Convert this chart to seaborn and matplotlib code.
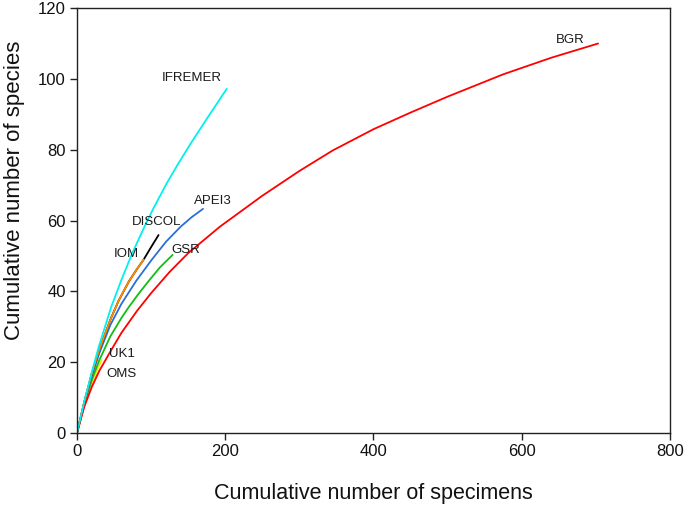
import matplotlib
matplotlib.use("Agg")
import matplotlib.pyplot as plt
import seaborn as sns
import pandas as pd

# Data (cumulative specimens vs cumulative species)
bgr_x = [0, 10, 20, 30, 45, 60, 81, 100, 125, 150, 193, 250, 300, 345, 400, 450, 500, 575, 640, 703]
bgr_y = [0, 7.5, 13, 17.5, 23, 28.3, 34.5, 39.5, 45.5, 50.8, 58.3, 67, 74, 79.8, 85.8, 90.5, 95, 101.3, 106, 110]

ifremer_x = [0, 10, 20, 30, 46, 60, 75, 92, 103, 121, 135, 152, 175, 202]
ifremer_y = [0, 9, 17.2, 24.8, 35.5, 43.3, 51, 58.7, 63.4, 70.5, 75.5, 81.3, 88.7, 97.2]

apei3_x = [0, 10, 20, 30, 45, 60, 80, 100, 120, 140, 155, 170]
apei3_y = [0, 8.7, 16, 22.5, 30.5, 36.5, 43, 48.7, 54, 58.3, 61, 63.3]

discol_x = [0, 10, 20, 30, 45, 56, 70, 80, 90, 100, 110]
discol_y = [0, 8.9, 16.8, 23.5, 32, 37.3, 42.8, 46, 49, 52.5, 55.9]

iom_x = [0, 10, 20, 30, 45, 56, 70, 80, 90]
iom_y = [0, 8.9, 16.8, 23.5, 32, 37.3, 42.8, 46, 49]

gsr_x = [0, 10, 20, 30, 45, 60, 70, 83, 97, 112, 129]
gsr_y = [0, 8.4, 15, 20.5, 27.3, 32.5, 35.6, 39.3, 43, 46.8, 50.3]

uk1_x = [0, 10, 20, 33]
uk1_y = [0, 8.2, 14.3, 20.5]

oms_x = [0, 10, 20, 27]
oms_y = [0, 8, 13.5, 16.5]

series = ["BGR", "IFREMER", "APEI3", "DISCOL", "IOM", "GSR", "UK1", "OMS"]
xs = [bgr_x, ifremer_x, apei3_x, discol_x, iom_x, gsr_x, uk1_x, oms_x]
ys = [bgr_y, ifremer_y, apei3_y, discol_y, iom_y, gsr_y, uk1_y, oms_y]

colors = {"BGR": "#FF0000", "IFREMER": "#00F0F0", "APEI3": "#2A6FD6",
          "DISCOL": "#000000", "IOM": "#FF8C00", "GSR": "#10C010",
          "UK1": "#F5E600", "OMS": "#E8D870"}

# label positions (data coords, text centre)
label_x = [665, 155, 183, 107, 67, 147, 61, 60]
label_y = [111, 100.3, 65.6, 59.7, 50.6, 51.8, 22.3, 16.7]

tick_x = [0, 200, 400, 600, 800]
tick_y = [0, 20, 40, 60, 80, 100, 120]

sns.set_theme(style="white")
plt.rcParams["font.family"] = ["Liberation Sans", "DejaVu Sans"]

fig = plt.figure(figsize=(6.85, 5.07), dpi=100)
ax = fig.add_axes([0.1124, 0.146, 0.8657, 0.838])

rows = []
for name, xv, yv in zip(series, xs, ys):
    for a, b in zip(xv, yv):
        rows.append({"site": name, "x": a, "y": b})
df = pd.DataFrame(rows)

draw_order = ["OMS", "UK1", "GSR", "APEI3", "DISCOL", "IOM", "BGR", "IFREMER"]
for name in draw_order:
    sub = df[df["site"] == name]
    sns.lineplot(data=sub, x="x", y="y", ax=ax, color=colors[name],
                 linewidth=1.3, sort=False, estimator=None)

for name, lx, ly in zip(series, label_x, label_y):
    ax.text(lx, ly, name, ha="center", va="center", fontsize=9.5, color="#1a1a1a")

ax.set_xlim(0, 800)
ax.set_ylim(0, 120)
ax.set_xticks(tick_x)
ax.set_yticks(tick_y)
ax.tick_params(axis="both", which="both", direction="out", length=5, width=1,
               color="#222222", labelsize=12, labelcolor="#111111",
               bottom=True, left=True, top=False, right=False, pad=3)
for s in ax.spines.values():
    s.set_color("#222222")
    s.set_linewidth(1.0)
ax.set_xlabel("Cumulative number of specimens", fontsize=15.5, color="#111111", labelpad=17)
ax.set_ylabel("Cumulative number of species", fontsize=16, color="#111111")
ax.yaxis.set_label_coords(-0.088, 0.57)
ax.grid(False)

fig.savefig("out.png", dpi=100)
